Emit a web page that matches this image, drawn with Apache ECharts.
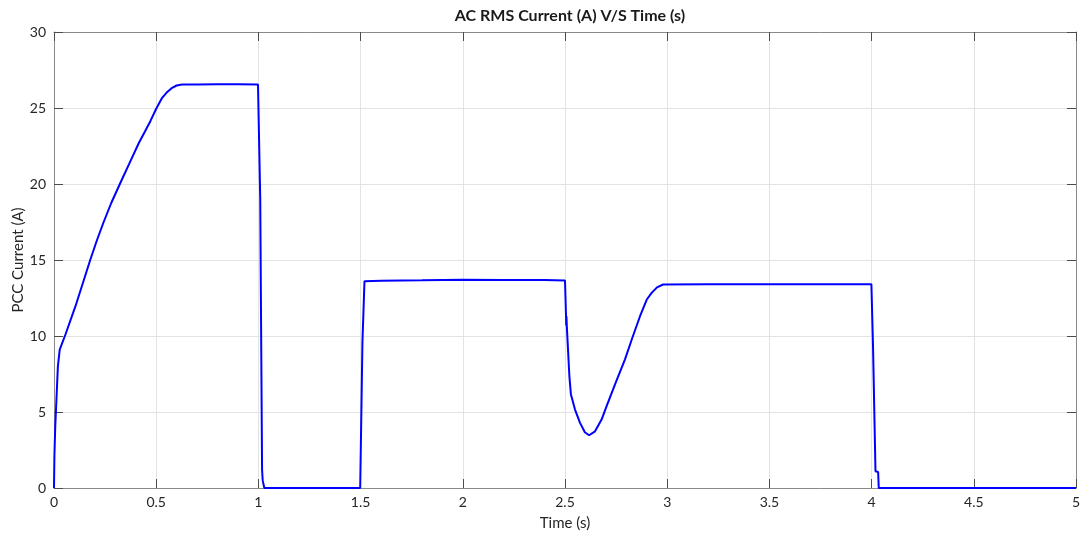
<!DOCTYPE html>
<html>
<head>
<meta charset="utf-8">
<script src="https://cdn.jsdelivr.net/npm/echarts@6/dist/echarts.min.js"></script>
<style>
  html, body { margin: 0; padding: 0; background: #fff; }
  #chart { width: 1086px; height: 533px; }
</style>
</head>
<body>
<div id="chart"></div>
<script>
// Simulated PCC RMS current trace: time (s) and current (A)
const time = [
  0, 0.002, 0.003, 0.006, 0.007, 0.012, 0.019, 0.028, 0.056, 0.105,
  0.178, 0.21, 0.243, 0.28, 0.325, 0.374, 0.415, 0.445, 0.472, 0.5, 0.512, 0.529, 0.55,
  0.578, 0.6, 0.627, 0.7, 0.8, 0.9, 0.998, 1.009, 1.018, 1.021, 1.029,
  1.498, 1.509, 1.519, 1.6, 1.8, 2.0, 2.2, 2.4, 2.5,
  2.505, 2.506, 2.507, 2.509, 2.521, 2.523, 2.529, 2.549, 2.573, 2.597,
  2.618, 2.647, 2.679, 2.704, 2.75, 2.793, 2.83, 2.867, 2.9, 2.924,
  2.95, 2.98, 3.2, 3.5, 3.8, 3.999, 4.007, 4.019, 4.032, 4.035, 5
];
const current = [
  0, 2.1, 2.1, 4.0, 4.0, 4.0, 8.0, 9.1, 10.1, 11.96,
  15.03, 16.3, 17.5, 18.75, 20.08, 21.5, 22.7, 23.45, 24.15, 24.95, 25.25, 25.67, 26.0,
  26.33, 26.48, 26.55, 26.55, 26.57, 26.56, 26.55, 19.0, 1.2, 0.5, 0,
  0, 9.6, 13.6, 13.63, 13.66, 13.7, 13.69, 13.68, 13.65,
  11.3, 10.7, 11.3, 10.6, 7.47, 7.1, 6.15, 5.16, 4.3, 3.67,
  3.47, 3.73, 4.5, 5.4, 7.0, 8.45, 9.9, 11.3, 12.4, 12.84,
  13.2, 13.39, 13.4, 13.41, 13.41, 13.4, 9.3, 1.1, 1.05, 0, 0
];

const xTicks = { min: 0, max: 5, step: 0.5 };
const yTicks = { min: 0, max: 30, step: 5 };

const points = time.map((t, i) => [t, current[i]]);

const textColor = '#262626';
const frameColor = '#8a8a8a';
const tickColor = '#4d4d4d';
const gridColor = '#e3e3e3';
const fontFamily = 'Lato, "Open Sans", sans-serif';

function boxAxis(range, extra) {
  return Object.assign({
    type: 'value',
    min: range.min,
    max: range.max,
    interval: range.step,
    axisLine: { show: true, onZero: false, lineStyle: { color: frameColor, width: 1 } },
    axisTick: { show: true, inside: true, length: 9, lineStyle: { color: tickColor, width: 1 } },
    axisLabel: { show: false },
    splitLine: { show: false }
  }, extra);
}

const chart = echarts.init(document.getElementById('chart'), null, { renderer: 'canvas' });
chart.setOption({
  animation: false,
  backgroundColor: '#ffffff',
  textStyle: { fontFamily: fontFamily },
  title: {
    text: 'AC RMS Current (A) V/S Time (s)',
    left: 565,
    top: 3,
    textAlign: 'center',
    textStyle: { fontFamily: fontFamily, fontSize: 16, fontWeight: 'bold', color: '#1a1a1a' }
  },
  grid: { left: 54, right: 10, top: 32, bottom: 45, containLabel: false, outerBoundsMode: 'none' },
  xAxis: [
    boxAxis(xTicks, {
      position: 'bottom',
      name: 'Time (s)',
      nameLocation: 'middle',
      nameGap: 28,
      nameMoveOverlap: false,
      nameTextStyle: { fontFamily: fontFamily, fontSize: 15, color: textColor },
      axisLabel: {
        show: true, margin: 7, fontSize: 14, color: textColor, fontFamily: fontFamily,
        formatter: v => String(Math.round(v * 10) / 10)
      },
      splitLine: { show: true, lineStyle: { color: gridColor, width: 1 } }
    }),
    boxAxis(xTicks, { position: 'top' })
  ],
  yAxis: [
    boxAxis(yTicks, {
      position: 'left',
      name: 'PCC Current (A)',
      nameLocation: 'middle',
      nameGap: 28,
      nameMoveOverlap: false,
      nameTextStyle: { fontFamily: fontFamily, fontSize: 15, color: textColor },
      axisLabel: { show: true, margin: 8, fontSize: 14, color: textColor, fontFamily: fontFamily },
      splitLine: { show: true, lineStyle: { color: gridColor, width: 1 } }
    }),
    boxAxis(yTicks, { position: 'right' })
  ],
  series: [{
    type: 'line',
    xAxisIndex: 0,
    yAxisIndex: 0,
    data: points,
    showSymbol: false,
    symbol: 'none',
    smooth: false,
    lineStyle: { color: '#0000ff', width: 2 },
    z: 5
  }]
});
</script>
</body>
</html>
